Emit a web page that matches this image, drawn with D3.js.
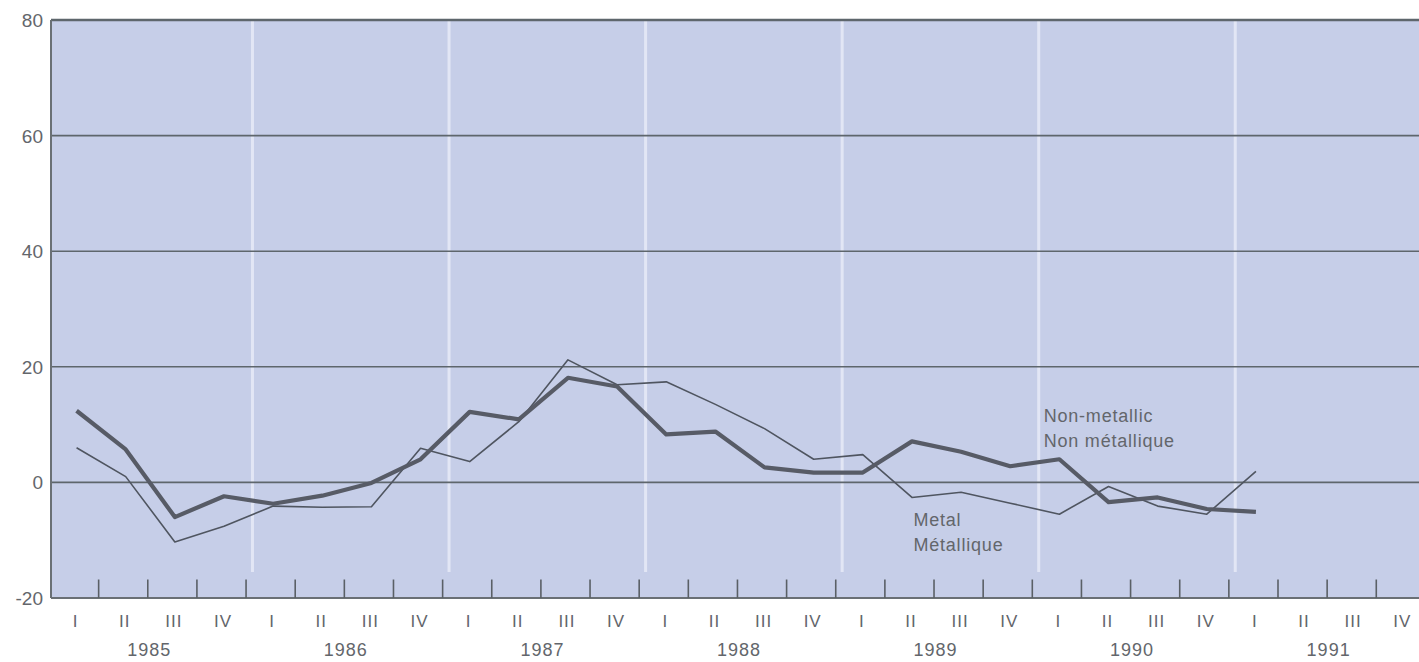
<!DOCTYPE html>
<html>
<head>
<meta charset="utf-8">
<script src="https://cdn.jsdelivr.net/npm/d3@7"></script>
<style>
  body { margin: 0; background: #fff; }
  svg text { font-family: "Liberation Sans", Arial, sans-serif; fill: #63666b; }
</style>
</head>
<body>
<div id="chart"></div>
<script>
// quarters 1985 Q1 .. 1991 Q4
var years = ["1985", "1986", "1987", "1988", "1989", "1990", "1991"]
var quarterNames = ["I", "II", "III", "IV"]
var yTicks = [-20, 0, 20, 40, 60, 80]

// non-metallic (thick line), 1985 Q1 .. 1991 Q1
var nonMetallic = [12.4, 5.7, -6.0, -2.4, -3.7, -2.3, -0.1, 4.0, 12.2, 10.9, 18.1, 16.6,
                   8.3, 8.8, 2.6, 1.7, 1.7, 7.1, 5.3, 2.8, 4.0, -3.4, -2.6, -4.6, -5.1]
// metal (thin line), 1985 Q1 .. 1991 Q1
var metal = [6.0, 1.0, -10.3, -7.6, -4.1, -4.3, -4.2, 5.9, 3.6, 10.5, 21.2, 16.9,
             17.4, 13.5, 9.3, 4.0, 4.8, -2.6, -1.7, -3.6, -5.5, -0.7, -4.1, -5.5, 1.9]

var width = 1419
var height = 662
var margin = {top: 20, left: 51, bottom: 64}

var svg = d3.select("#chart")
  .append("svg")
  .attr("width", width)
  .attr("height", height)

var nQuarters = years.length * 4
// x in quarter units, one quarter ~49px
var x = d3.scaleLinear().domain([0, nQuarters]).range([margin.left, margin.left + 49.14 * nQuarters])
var y = d3.scaleLinear().domain([-20, 80]).range([height - margin.bottom, margin.top])

var plotRight = width

// background
svg.append("rect")
  .attr("x", x(0))
  .attr("y", y(80))
  .attr("width", plotRight - x(0))
  .attr("height", y(-20) - y(80))
  .attr("fill", "#c6cee8")

// faint white vertical year lines
svg.selectAll(".vline")
  .data(d3.range(1, years.length))
  .enter()
  .append("line")
    .attr("x1", function(k) { return x(4 * k + 0.1) })
    .attr("x2", function(k) { return x(4 * k + 0.1) })
    .attr("y1", y(80))
    .attr("y2", y(-15.5))
    .attr("stroke", "#e2e6f5")
    .attr("stroke-width", 3)

// horizontal grid
svg.selectAll(".hline")
  .data(yTicks.filter(function(d) { return d > -20 }))
  .enter()
  .append("line")
    .attr("x1", x(0))
    .attr("x2", plotRight)
    .attr("y1", function(d) { return y(d) })
    .attr("y2", function(d) { return y(d) })
    .attr("stroke", "#5e666c")
    .attr("stroke-width", function(d) { return d == 80 ? 2.5 : 1.6 })

// left and bottom axis lines
svg.append("line")
  .attr("x1", x(0)).attr("x2", x(0))
  .attr("y1", y(80)).attr("y2", y(-20))
  .attr("stroke", "#6a7075").attr("stroke-width", 2)
svg.append("line")
  .attr("x1", x(0)).attr("x2", plotRight)
  .attr("y1", y(-20)).attr("y2", y(-20))
  .attr("stroke", "#6a7075").attr("stroke-width", 2)

// quarter tick marks
svg.selectAll(".qtick")
  .data(d3.range(1, nQuarters))
  .enter()
  .append("line")
    .attr("x1", function(d) { return x(d) - 1.5 })
    .attr("x2", function(d) { return x(d) - 1.5 })
    .attr("y1", y(-20))
    .attr("y2", y(-16.8))
    .attr("stroke", "#5a6066")
    .attr("stroke-width", 1.6)

// y labels
svg.selectAll(".ylab")
  .data(yTicks)
  .enter()
  .append("text")
    .attr("x", x(0) - 8)
    .attr("y", function(d) { return y(d) + 7 })
    .attr("text-anchor", "end")
    .attr("font-size", "19px")
    .text(function(d) { return d })

// quarter labels
svg.selectAll(".qlab")
  .data(d3.range(nQuarters))
  .enter()
  .append("text")
    .attr("x", function(i) { return x(i + 0.5) })
    .attr("y", y(-20) + 29)
    .attr("text-anchor", "middle")
    .attr("font-size", "17px")
    .attr("letter-spacing", "1px")
    .text(function(i) { return quarterNames[i % 4] })

// year labels
svg.selectAll(".ylabel")
  .data(years)
  .enter()
  .append("text")
    .attr("x", function(d, i) { return x(4 * i + 2) })
    .attr("y", y(-20) + 58)
    .attr("text-anchor", "middle")
    .attr("font-size", "18px")
    .attr("letter-spacing", "1px")
    .text(function(d) { return d })

var line = d3.line()
  .x(function(d, i) { return x(i + 0.5) + 1 })
  .y(function(d) { return y(d) })

svg.append("path")
  .datum(metal)
  .attr("d", line)
  .attr("fill", "none")
  .attr("stroke", "#4f5560")
  .attr("stroke-width", 1.6)
  .attr("stroke-linejoin", "round")

svg.append("path")
  .datum(nonMetallic)
  .attr("d", line)
  .attr("fill", "none")
  .attr("stroke", "#575b66")
  .attr("stroke-width", 4.2)
  .attr("stroke-linejoin", "round")

// series labels
var labels = [
  {lines: ["Non-metallic", "Non métallique"], q: 20.2, v: 10.4},
  {lines: ["Metal", "Métallique"], q: 17.55, v: -7.6}
]
labels.forEach(function(l) {
  var t = svg.append("text")
    .attr("x", x(l.q))
    .attr("y", y(l.v))
    .attr("font-size", "18px")
    .attr("letter-spacing", "0.8px")
  l.lines.forEach(function(s, j) {
    t.append("tspan")
      .attr("x", x(l.q))
      .attr("dy", j == 0 ? 0 : 25)
      .text(s)
  })
})
</script>
</body>
</html>
